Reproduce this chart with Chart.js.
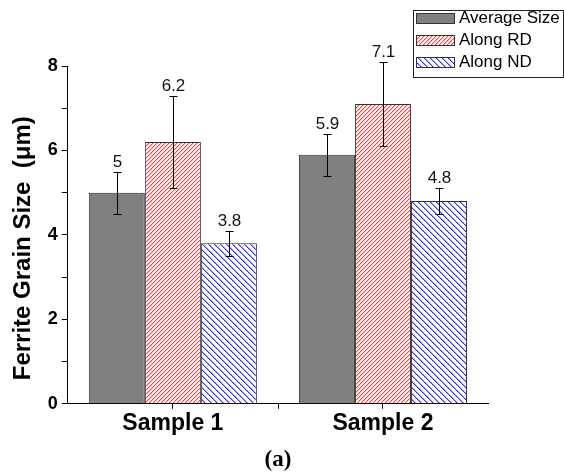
<!DOCTYPE html>
<html>
<head>
<meta charset="utf-8">
<script src="https://cdn.jsdelivr.net/npm/chart.js@4/dist/chart.umd.min.js"></script>
<style>
  html, body { margin: 0; padding: 0; background: #fff; }
  #wrap { width: 564px; height: 474px; }
</style>
</head>
<body>
<div id="wrap"><canvas id="grain_chart"></canvas></div>
<script>
// data
var samples = ['Sample 1', 'Sample 2'];
var seriesNames = ['Average Size', 'Along RD', 'Along ND'];
var averageSize = [5, 5.9];
var alongRD = [6.2, 7.1];
var alongND = [3.8, 4.8];
var averageErr = [0.5, 0.5];
var rdErr = [1.1, 1.0];
var ndErr = [0.3, 0.3];
var yTicks = [0, 2, 4, 6, 8];

// hatch patterns, drawn pixel by pixel so the thin lines keep their colour
function hatch(dark, light, size, forward) {
  var c = document.createElement('canvas');
  c.width = size; c.height = size;
  var g = c.getContext('2d');
  g.fillStyle = '#fff';
  g.fillRect(0, 0, size, size);
  for (var i = 0; i < size; i++) {
    var px = forward ? size - 1 - i : i;
    g.fillStyle = dark;
    g.fillRect(px, i, 1, 1);
    g.fillStyle = light;
    g.fillRect((px + 1) % size, i, 1, 1);
  }
  return g.createPattern(c, 'repeat');
}
var redHatch = hatch('#ff3c3c', '#ffc0c0', 4, true);
var blueHatch = hatch('#2a2aff', '#a8a8ff', 6, false);
var fills = ['#808080', redHatch, blueHatch];
var errors = [averageErr, rdErr, ndErr];

// error bars + value labels
var errorBars = {
  id: 'errorBars',
  afterDatasetsDraw: function(chart) {
    var ctx = chart.ctx;
    var y = chart.scales.y;
    ctx.save();
    ctx.strokeStyle = '#000';
    ctx.lineWidth = 1;
    ctx.fillStyle = '#111';
    ctx.font = '17px Arial, "Liberation Sans"';
    ctx.textAlign = 'center';
    ctx.textBaseline = 'bottom';
    chart.data.datasets.forEach(function(ds, i) {
      var meta = chart.getDatasetMeta(i);
      meta.data.forEach(function(bar, j) {
        var v = ds.data[j], e = errors[i][j];
        var x = Math.round(bar.x) + 0.5;
        var top = Math.round(y.getPixelForValue(v + e)) + 0.5;
        var bot = Math.round(y.getPixelForValue(v - e)) + 0.5;
        ctx.beginPath();
        ctx.moveTo(x, top); ctx.lineTo(x, bot);
        ctx.moveTo(x - 4, top); ctx.lineTo(x + 4, top);
        ctx.moveTo(x - 4, bot); ctx.lineTo(x + 4, bot);
        ctx.stroke();
        ctx.fillText(String(v), x, top - 2);
      });
    });
    ctx.restore();
  },
  afterDraw: function(chart) {
    var ctx = chart.ctx;
    var x = chart.scales.x;
    var area = chart.chartArea;
    ctx.save();
    ctx.strokeStyle = '#000';
    ctx.lineWidth = 1;
    // tick marks between categories
    var mid = (x.getPixelForValue(0) + x.getPixelForValue(1)) / 2;
    ctx.beginPath();
    ctx.moveTo(Math.round(mid) + 0.5, area.bottom);
    ctx.lineTo(Math.round(mid) + 0.5, area.bottom + 5);
    ctx.stroke();

    // legend box
    var lx = 413.5, ly = 10.5;
    ctx.strokeStyle = '#222';
    ctx.strokeRect(lx, ly, 150, 67);
    ctx.font = '17px Arial, "Liberation Sans"';
    ctx.textBaseline = 'middle';
    ctx.textAlign = 'left';
    chart.data.datasets.forEach(function(ds, i) {
      var sy = 13 + i * 22;
      ctx.fillStyle = ds.backgroundColor;
      ctx.fillRect(416, sy, 38, 10);
      ctx.strokeStyle = '#333';
      ctx.strokeRect(416.5, sy + 0.5, 38, 10);
      ctx.fillStyle = '#000';
      ctx.fillText(ds.label, 459, sy + 5);
    });
    ctx.restore();
  }
};

var datasets = [averageSize, alongRD, alongND].map(function(vals, i) {
  return {
    label: seriesNames[i],
    data: vals,
    backgroundColor: fills[i],
    borderColor: '#333',
    borderWidth: 1,
    categoryPercentage: 0.8,
    barPercentage: 1.0
  };
});

var gc = document.getElementById('grain_chart');
var grainChart = new Chart(gc, {
  type: 'bar',
  data: { labels: samples, datasets: datasets },
  options: {
    responsive: true,
    maintainAspectRatio: false,
    animation: false,
    layout: { padding: { left: 9, right: 76, top: 66, bottom: 0 } },
    plugins: {
      legend: { display: false },
      tooltip: { enabled: false }
    },
    scales: {
      x: {
        grid: { drawOnChartArea: false, offset: false, color: '#000', tickLength: 5 },
        border: { color: '#000', width: 1 },
        ticks: {
          color: '#000',
          font: { family: 'Arial, "Liberation Sans"', size: 23, weight: 'bold' },
          padding: 1
        },
        title: {
          display: true,
          text: '(a)',
          color: '#000',
          font: { family: '"Times New Roman", "Liberation Serif"', size: 23, weight: 'bold' },
          padding: { top: 8, bottom: 0 }
        }
      },
      y: {
        min: 0,
        max: 8,
        afterBuildTicks: function(scale) {
          var t = [];
          for (var v = 0; v <= 8; v++) t.push({ value: v });
          scale.ticks = t;
        },
        grid: { drawOnChartArea: false, color: '#000', tickLength: 6 },
        border: { color: '#000', width: 1 },
        ticks: {
          color: '#000',
          font: { family: 'Arial, "Liberation Sans"', size: 18, weight: 'bold' },
          padding: 4,
          callback: function(v) { return yTicks.indexOf(v) >= 0 ? String(v) : ''; }
        },
        title: {
          display: true,
          text: 'Ferrite Grain Size  (\u03bcm)\u00a0\u00a0\u00a0\u00a0',
          color: '#000',
          font: { family: 'Arial, "Liberation Sans"', size: 24, weight: 'bold' },
          padding: { top: 0, bottom: 6 }
        }
      }
    }
  },
  plugins: [errorBars]
});
</script>
</body>
</html>
